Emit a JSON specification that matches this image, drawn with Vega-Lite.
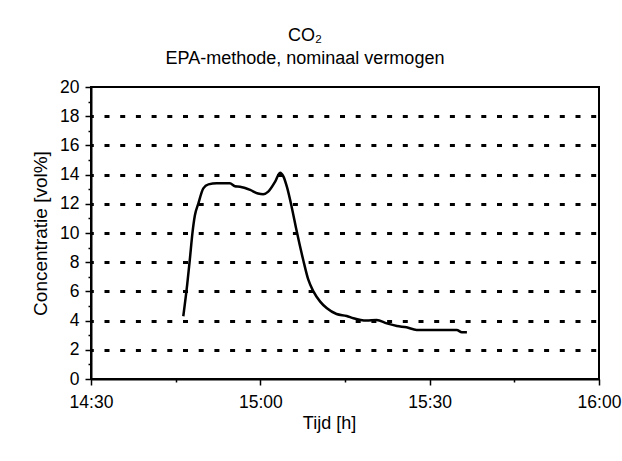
{
  "$schema": "https://vega.github.io/schema/vega-lite/v6.json",
  "width": 508,
  "height": 292,
  "autosize": {"type": "none"},
  "padding": {"left": 91, "top": 87, "right": 23, "bottom": 82},
  "background": "white",
  "title": {
    "text": "CO₂",
    "subtitle": "EPA-methode, nominaal vermogen",
    "anchor": "middle",
    "dx": -40,
    "offset": 10,
    "font": "Liberation Sans",
    "fontSize": 18,
    "fontWeight": "normal",
    "color": "black",
    "subtitleFont": "Liberation Sans",
    "subtitleFontSize": 18,
    "subtitleColor": "black",
    "subtitlePadding": 5
  },
  "config": {
    "font": "Liberation Sans",
    "view": {"stroke": "black", "strokeWidth": 2},
    "axis": {
      "domainColor": "black",
      "domainWidth": 2,
      "tickColor": "black",
      "tickWidth": 1.5,
      "labelFont": "Liberation Sans",
      "labelFontSize": 17.5,
      "labelColor": "black",
      "titleFont": "Liberation Sans",
      "titleFontSize": 18,
      "titleFontWeight": "normal",
      "titleColor": "black",
      "labelOverlap": false,
      "labelBound": false,
      "labelFlush": false
    }
  },
  "data": {
    "values": [
      {"tijd": "2000-01-01T14:46:21", "co2": 4.3},
      {"tijd": "2000-01-01T14:47:04", "co2": 6.55},
      {"tijd": "2000-01-01T14:47:30", "co2": 8.15},
      {"tijd": "2000-01-01T14:48:00", "co2": 10.1},
      {"tijd": "2000-01-01T14:48:24", "co2": 11.2},
      {"tijd": "2000-01-01T14:49:00", "co2": 12.0},
      {"tijd": "2000-01-01T14:49:54", "co2": 13.06},
      {"tijd": "2000-01-01T14:50:48", "co2": 13.33},
      {"tijd": "2000-01-01T14:52:18", "co2": 13.4},
      {"tijd": "2000-01-01T14:54:36", "co2": 13.4},
      {"tijd": "2000-01-01T14:55:30", "co2": 13.2},
      {"tijd": "2000-01-01T14:56:24", "co2": 13.17},
      {"tijd": "2000-01-01T14:58:12", "co2": 12.95},
      {"tijd": "2000-01-01T14:59:36", "co2": 12.7},
      {"tijd": "2000-01-01T15:00:30", "co2": 12.65},
      {"tijd": "2000-01-01T15:01:24", "co2": 12.83},
      {"tijd": "2000-01-01T15:02:36", "co2": 13.5},
      {"tijd": "2000-01-01T15:03:30", "co2": 14.13},
      {"tijd": "2000-01-01T15:04:06", "co2": 13.86},
      {"tijd": "2000-01-01T15:04:42", "co2": 13.17},
      {"tijd": "2000-01-01T15:05:36", "co2": 11.7},
      {"tijd": "2000-01-01T15:06:24", "co2": 10.2},
      {"tijd": "2000-01-01T15:07:36", "co2": 8.15},
      {"tijd": "2000-01-01T15:08:30", "co2": 6.8},
      {"tijd": "2000-01-01T15:09:24", "co2": 6.0},
      {"tijd": "2000-01-01T15:10:36", "co2": 5.3},
      {"tijd": "2000-01-01T15:11:48", "co2": 4.84},
      {"tijd": "2000-01-01T15:13:30", "co2": 4.45},
      {"tijd": "2000-01-01T15:15:18", "co2": 4.32},
      {"tijd": "2000-01-01T15:16:30", "co2": 4.16},
      {"tijd": "2000-01-01T15:18:48", "co2": 4.0},
      {"tijd": "2000-01-01T15:20:36", "co2": 4.04},
      {"tijd": "2000-01-01T15:22:24", "co2": 3.81},
      {"tijd": "2000-01-01T15:24:12", "co2": 3.63},
      {"tijd": "2000-01-01T15:25:54", "co2": 3.54},
      {"tijd": "2000-01-01T15:27:42", "co2": 3.36},
      {"tijd": "2000-01-01T15:31:48", "co2": 3.36},
      {"tijd": "2000-01-01T15:34:48", "co2": 3.36},
      {"tijd": "2000-01-01T15:35:42", "co2": 3.2},
      {"tijd": "2000-01-01T15:36:36", "co2": 3.2}
    ]
  },
  "mark": {"type": "line", "color": "black", "strokeWidth": 2.5, "interpolate": "monotone"},
  "encoding": {
    "x": {
      "field": "tijd",
      "type": "temporal",
      "title": "Tijd [h]",
      "scale": {
        "domain": [
          {"year": 2000, "month": 1, "date": 1, "hours": 14, "minutes": 30},
          {"year": 2000, "month": 1, "date": 1, "hours": 16, "minutes": 0}
        ]
      },
      "axis": {
        "values": [
          {"year": 2000, "month": 1, "date": 1, "hours": 14, "minutes": 30},
          {"year": 2000, "month": 1, "date": 1, "hours": 14, "minutes": 45},
          {"year": 2000, "month": 1, "date": 1, "hours": 15, "minutes": 0},
          {"year": 2000, "month": 1, "date": 1, "hours": 15, "minutes": 15},
          {"year": 2000, "month": 1, "date": 1, "hours": 15, "minutes": 30},
          {"year": 2000, "month": 1, "date": 1, "hours": 15, "minutes": 45},
          {"year": 2000, "month": 1, "date": 1, "hours": 16, "minutes": 0}
        ],
        "format": "%H:%M",
        "labelExpr": "minutes(datum.value) % 30 === 0 ? datum.label : ''",
        "grid": false,
        "tickSize": {"condition": {"test": "minutes(datum.value) % 30 !== 0", "value": 3}, "value": 6},
        "labelPadding": 8,
        "titlePadding": 4,
        "titleX": 238
      }
    },
    "y": {
      "field": "co2",
      "type": "quantitative",
      "title": "Concentratie [vol%]",
      "scale": {"domain": [0, 20], "nice": false, "zero": true},
      "axis": {
        "values": [0, 0.5, 1, 1.5, 2, 2.5, 3, 3.5, 4, 4.5, 5, 5.5, 6, 6.5, 7, 7.5, 8, 8.5, 9, 9.5, 10, 10.5, 11, 11.5, 12, 12.5, 13, 13.5, 14, 14.5, 15, 15.5, 16, 16.5, 17, 17.5, 18, 18.5, 19, 19.5, 20],
        "format": "d",
        "labelExpr": "datum.value % 2 === 0 ? datum.label : ''",
        "grid": true,
        "gridColor": "black",
        "gridWidth": 3,
        "gridDash": [5, 10.7],
        "gridDashOffset": 2.7,
        "gridOpacity": {"condition": {"test": "datum.value % 2 !== 0 || datum.value === 0 || datum.value === 20", "value": 0}, "value": 1},
        "tickSize": {"condition": {"test": "datum.value % 2 !== 0", "value": 3}, "value": 6},
        "labelPadding": 6,
        "titleFontSize": 19,
        "titlePadding": 9
      }
    }
  }
}
